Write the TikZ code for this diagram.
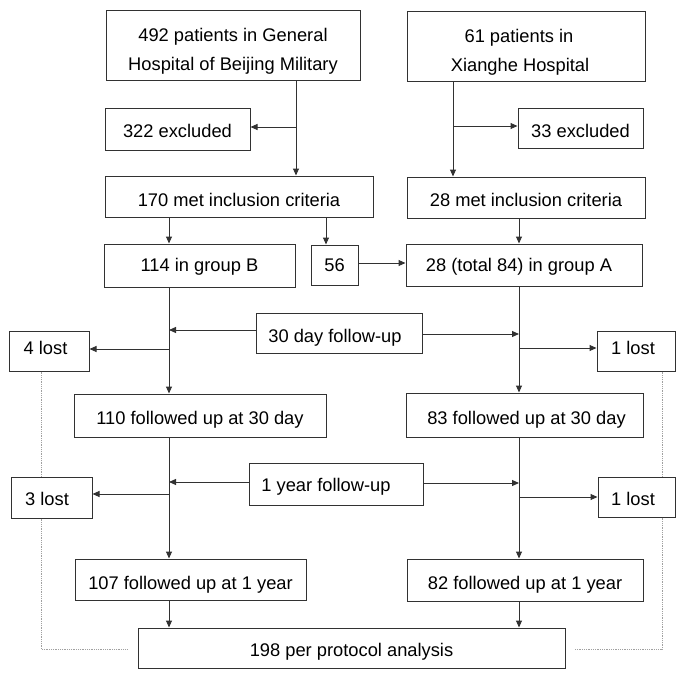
\documentclass[tikz,border=0pt]{standalone}
\usepackage{fontspec}
\setmainfont{Liberation Sans}
\usetikzlibrary{arrows.meta}
\definecolor{linec}{RGB}{50,50,50}
\definecolor{dotc}{RGB}{160,160,160}
\newcommand{\shx}[1]{\hspace*{#1}}
\begin{document}
\begin{tikzpicture}[x=1pt,y=-1pt,
  box/.style 2 args={draw=linec, line width=1pt, fill=white, minimum width=#1, minimum height=#2,
    inner sep=0pt, align=center, font=\fontsize{18.3}{29}\selectfont,
    text height=17.1pt, text depth=0pt},
  ty/.style={text height=#1pt, text depth=0pt},
  twoline/.style={text height=50.1pt, text depth=0pt},
  arr/.style={draw=linec, line width=1pt, -{Triangle[length=7pt,width=6pt]}},
  dotl/.style={draw=dotc, line width=0.8pt, densely dotted}]
\useasboundingbox (0,0) rectangle (685,677);

% boxes
\node[box={254pt}{69pt}, twoline] (b1) at (233,45.5) {492 patients in General\\Hospital of Beijing Military};
\node[box={238pt}{69pt}, twoline] (b2) at (526,46.5) {\shx{-14pt}61 patients in\\\shx{-12pt}Xianghe Hospital};
\node[box={145pt}{42pt}, ty=16.1] (ex1) at (177.5,129) {322 excluded};
\node[box={125pt}{40pt}, ty=18.1] (ex2) at (580.5,128) {33 excluded};
\node[box={268pt}{41pt}, ty=20.1] (m1) at (239,196.5) {170 met inclusion criteria};
\node[box={238pt}{41pt}, ty=18.1] (m2) at (526,197.5) {28 met inclusion criteria};
\node[box={191pt}{43pt}, ty=12.1] (gB) at (199.5,265.5) {114 in group B};
\node[box={47pt}{40pt}, ty=13.1] (n56) at (334.5,265) {56};
\node[box={236pt}{42pt}, ty=13.1] (gA) at (524,265) {\shx{-10pt}28 (total 84) in group A};
\node[box={166pt}{40pt}, ty=19.1] (f30) at (339,333) {\shx{-8pt}30 day follow-up};
\node[box={80pt}{40pt}, ty=7.1] (l4) at (49,351) {\shx{-7pt}4 lost};
\node[box={78pt}{40pt}, ty=7.1] (l1a) at (636,351) {\shx{-6pt}1 lost};
\node[box={252pt}{43pt}, ty=18.1] (f110) at (200,415.5) {110 followed up at 30 day};
\node[box={237pt}{44pt}, ty=19.1] (f83) at (524.5,415) {\shx{4pt}83 followed up at 30 day};
\node[box={174pt}{42pt}, ty=15.1] (f1y) at (336,484) {\shx{-20pt}1 year follow-up};
\node[box={81pt}{41pt}, ty=16.1] (l3) at (51.5,497.5) {\shx{-9pt}3 lost};
\node[box={77pt}{40pt}, ty=17.1] (l1b) at (636.5,497) {\shx{-7pt}1 lost};
\node[box={231pt}{41pt}, ty=20.1] (f107) at (190.5,579.5) {107 followed up at 1 year};
\node[box={236pt}{42pt}, ty=19.1] (f82) at (525,580) {82 followed up at 1 year};
\node[box={427pt}{40pt}, ty=16.1] (pp) at (351.5,648) {198 per protocol analysis};

% helper coordinates
\coordinate (cL) at (169,0);
\coordinate (cR) at (519,0);
\coordinate (c56) at (326,0);
\coordinate (y56) at (0,263);
\coordinate (j1) at (296,127);
\coordinate (j2) at (453,126);
\coordinate (a30L) at (169,330);
\coordinate (b30L) at (169,349);
\coordinate (a30R) at (519,334);
\coordinate (b30R) at (519,348);
\coordinate (a1L) at (169,482);
\coordinate (b1L) at (169,494);
\coordinate (a1R) at (519,483);
\coordinate (b1R) at (519,497);
\coordinate (dL) at (41,649);
\coordinate (dLe) at (127,649);
\coordinate (dR) at (662,649);
\coordinate (dRe) at (575,649);

% top section
\draw[arr] (b1.south -| j1) -- (m1.north -| j1);
\draw[arr] (j1) -- (j1 -| ex1.east);
\draw[arr] (b2.south -| j2) -- (m2.north -| j2);
\draw[arr] (j2) -- (j2 -| ex2.west);
\draw[arr] (m1.south -| cL) -- (gB.north -| cL);
\draw[arr] (m1.south -| c56) -- (n56.north -| c56);
\draw[arr] (m2.south -| cR) -- (gA.north -| cR);
\draw[arr] (n56.east |- y56) -- (gA.west |- y56);

% follow-up
\draw[arr] (gB.south -| cL) -- (f110.north -| cL);
\draw[arr] (gA.south -| cR) -- (f83.north -| cR);
\draw[arr] (f30.west |- a30L) -- (a30L);
\draw[arr] (b30L) -- (b30L -| l4.east);
\draw[arr] (f30.east |- a30R) -- (a30R);
\draw[arr] (b30R) -- (b30R -| l1a.west);
\draw[arr] (f110.south -| cL) -- (f107.north -| cL);
\draw[arr] (f83.south -| cR) -- (f82.north -| cR);
\draw[arr] (f1y.west |- a1L) -- (a1L);
\draw[arr] (b1L) -- (b1L -| l3.east);
\draw[arr] (f1y.east |- a1R) -- (a1R);
\draw[arr] (b1R) -- (b1R -| l1b.west);
\draw[arr] (f107.south -| cL) -- (pp.north -| cL);
\draw[arr] (f82.south -| cR) -- (pp.north -| cR);

% dotted returns
\draw[dotl] (l4.south -| dL) -- (l3.north -| dL);
\draw[dotl] (l3.south -| dL) -- (dL) -- (dLe);
\draw[dotl] (l1a.south -| dR) -- (l1b.north -| dR);
\draw[dotl] (l1b.south -| dR) -- (dR) -- (dRe);
\end{tikzpicture}
\end{document}
